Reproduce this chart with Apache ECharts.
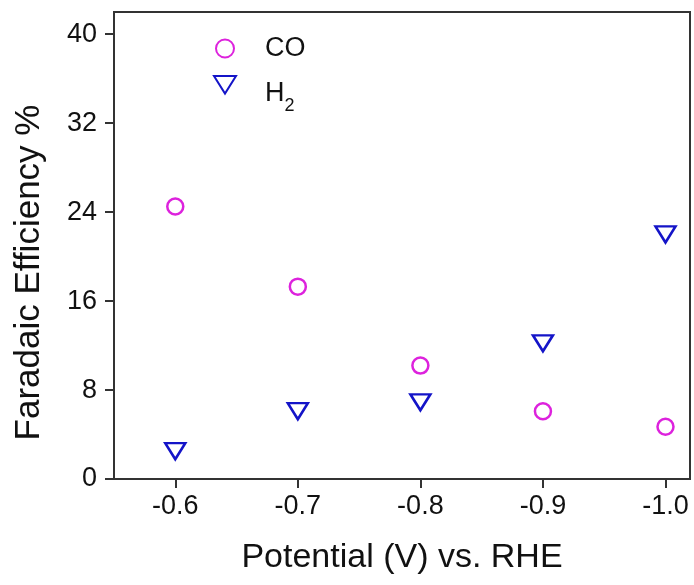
<!DOCTYPE html>
<html>
<head>
<meta charset="utf-8">
<script src="https://cdn.jsdelivr.net/npm/echarts@6/dist/echarts.min.js"></script>
<style>
  html, body { margin: 0; padding: 0; background: #fff; }
  #chart { width: 694px; height: 585px; }
</style>
</head>
<body>
<div id="chart"></div>
<script>
var potentials = [-0.6, -0.7, -0.8, -0.9, -1.0];
var coFE = [24.5, 17.3, 10.2, 6.1, 4.7];
var h2FE = [2.5, 6.1, 6.9, 12.2, 22.0];
var xTicks = [-0.6, -0.7, -0.8, -0.9, -1.0];
var yTicks = [0, 8, 16, 24, 32, 40];

var font = "'Liberation Sans', Arial, sans-serif";
var axisColor = '#333';
var magenta = '#DD22DD';
var blue = '#1414C8';

function drawFE() {
    var myChart = echarts.init(document.getElementById('chart'));

    var option = {
        animation: false,
        textStyle: { fontFamily: font },
        grid: {
            left: 114, top: 12, right: 4, bottom: 106,
            show: true, borderColor: axisColor, borderWidth: 2
        },
        legend: {
            orient: 'vertical',
            left: 208, top: 30,
            itemWidth: 22, itemHeight: 18, itemGap: 13,
            data: ['CO', { name: 'H2', textStyle: { padding: [18, 0, 0, 24] } }],
            formatter: function (name) {
                return name === 'H2' ? 'H{sub|2}' : name;
            },
            textStyle: {
                fontSize: 27, color: '#111', fontFamily: font,
                padding: [0, 0, 0, 24],
                rich: {
                    sub: { fontSize: 18, fontFamily: font, color: '#111', verticalAlign: 'bottom', lineHeight: 42 }
                }
            }
        },
        xAxis: {
            type: 'value',
            inverse: true,
            min: -1.02, max: -0.55,
            name: 'Potential (V) vs. RHE',
            nameLocation: 'middle',
            nameGap: 62,
            nameTextStyle: { fontSize: 34, color: '#111', fontFamily: font },
            axisLine: { onZero: false, lineStyle: { color: axisColor, width: 2 } },
            axisTick: { customValues: xTicks, length: 9, lineStyle: { color: axisColor, width: 2 } },
            axisLabel: {
                customValues: xTicks, margin: 14,
                fontSize: 27, color: '#111', fontFamily: font,
                formatter: function (v) { return v.toFixed(1); }
            },
            splitLine: { show: false }
        },
        yAxis: {
            type: 'value',
            min: 0, max: 42,
            name: 'Faradaic Efficiency %',
            nameLocation: 'middle',
            nameGap: 67,
            nameTextStyle: { fontSize: 35, color: '#111', fontFamily: font, padding: [0, 54, 0, 0] },
            axisLine: { onZero: false, lineStyle: { color: axisColor, width: 2 } },
            axisTick: { customValues: yTicks, length: 9, lineStyle: { color: axisColor, width: 2 } },
            axisLabel: {
                customValues: yTicks, margin: 17,
                fontSize: 27, color: '#111', fontFamily: font
            },
            splitLine: { show: false }
        },
        series: [
            {
                name: 'CO',
                type: 'scatter',
                symbol: 'circle',
                symbolSize: 16,
                itemStyle: { color: '#fff', borderColor: magenta, borderWidth: 2.5, opacity: 1 },
                data: potentials.map(function (e, i) { return [e, coFE[i]]; })
            },
            {
                name: 'H2',
                type: 'scatter',
                symbol: 'path://M0,0 L20,0 L10,16 Z',
                symbolSize: [20, 16],
                itemStyle: { color: '#fff', borderColor: blue, borderWidth: 2.5, opacity: 1 },
                data: potentials.map(function (e, i) { return [e, h2FE[i]]; })
            }
        ]
    };

    myChart.setOption(option);
}

drawFE();
</script>
</body>
</html>
